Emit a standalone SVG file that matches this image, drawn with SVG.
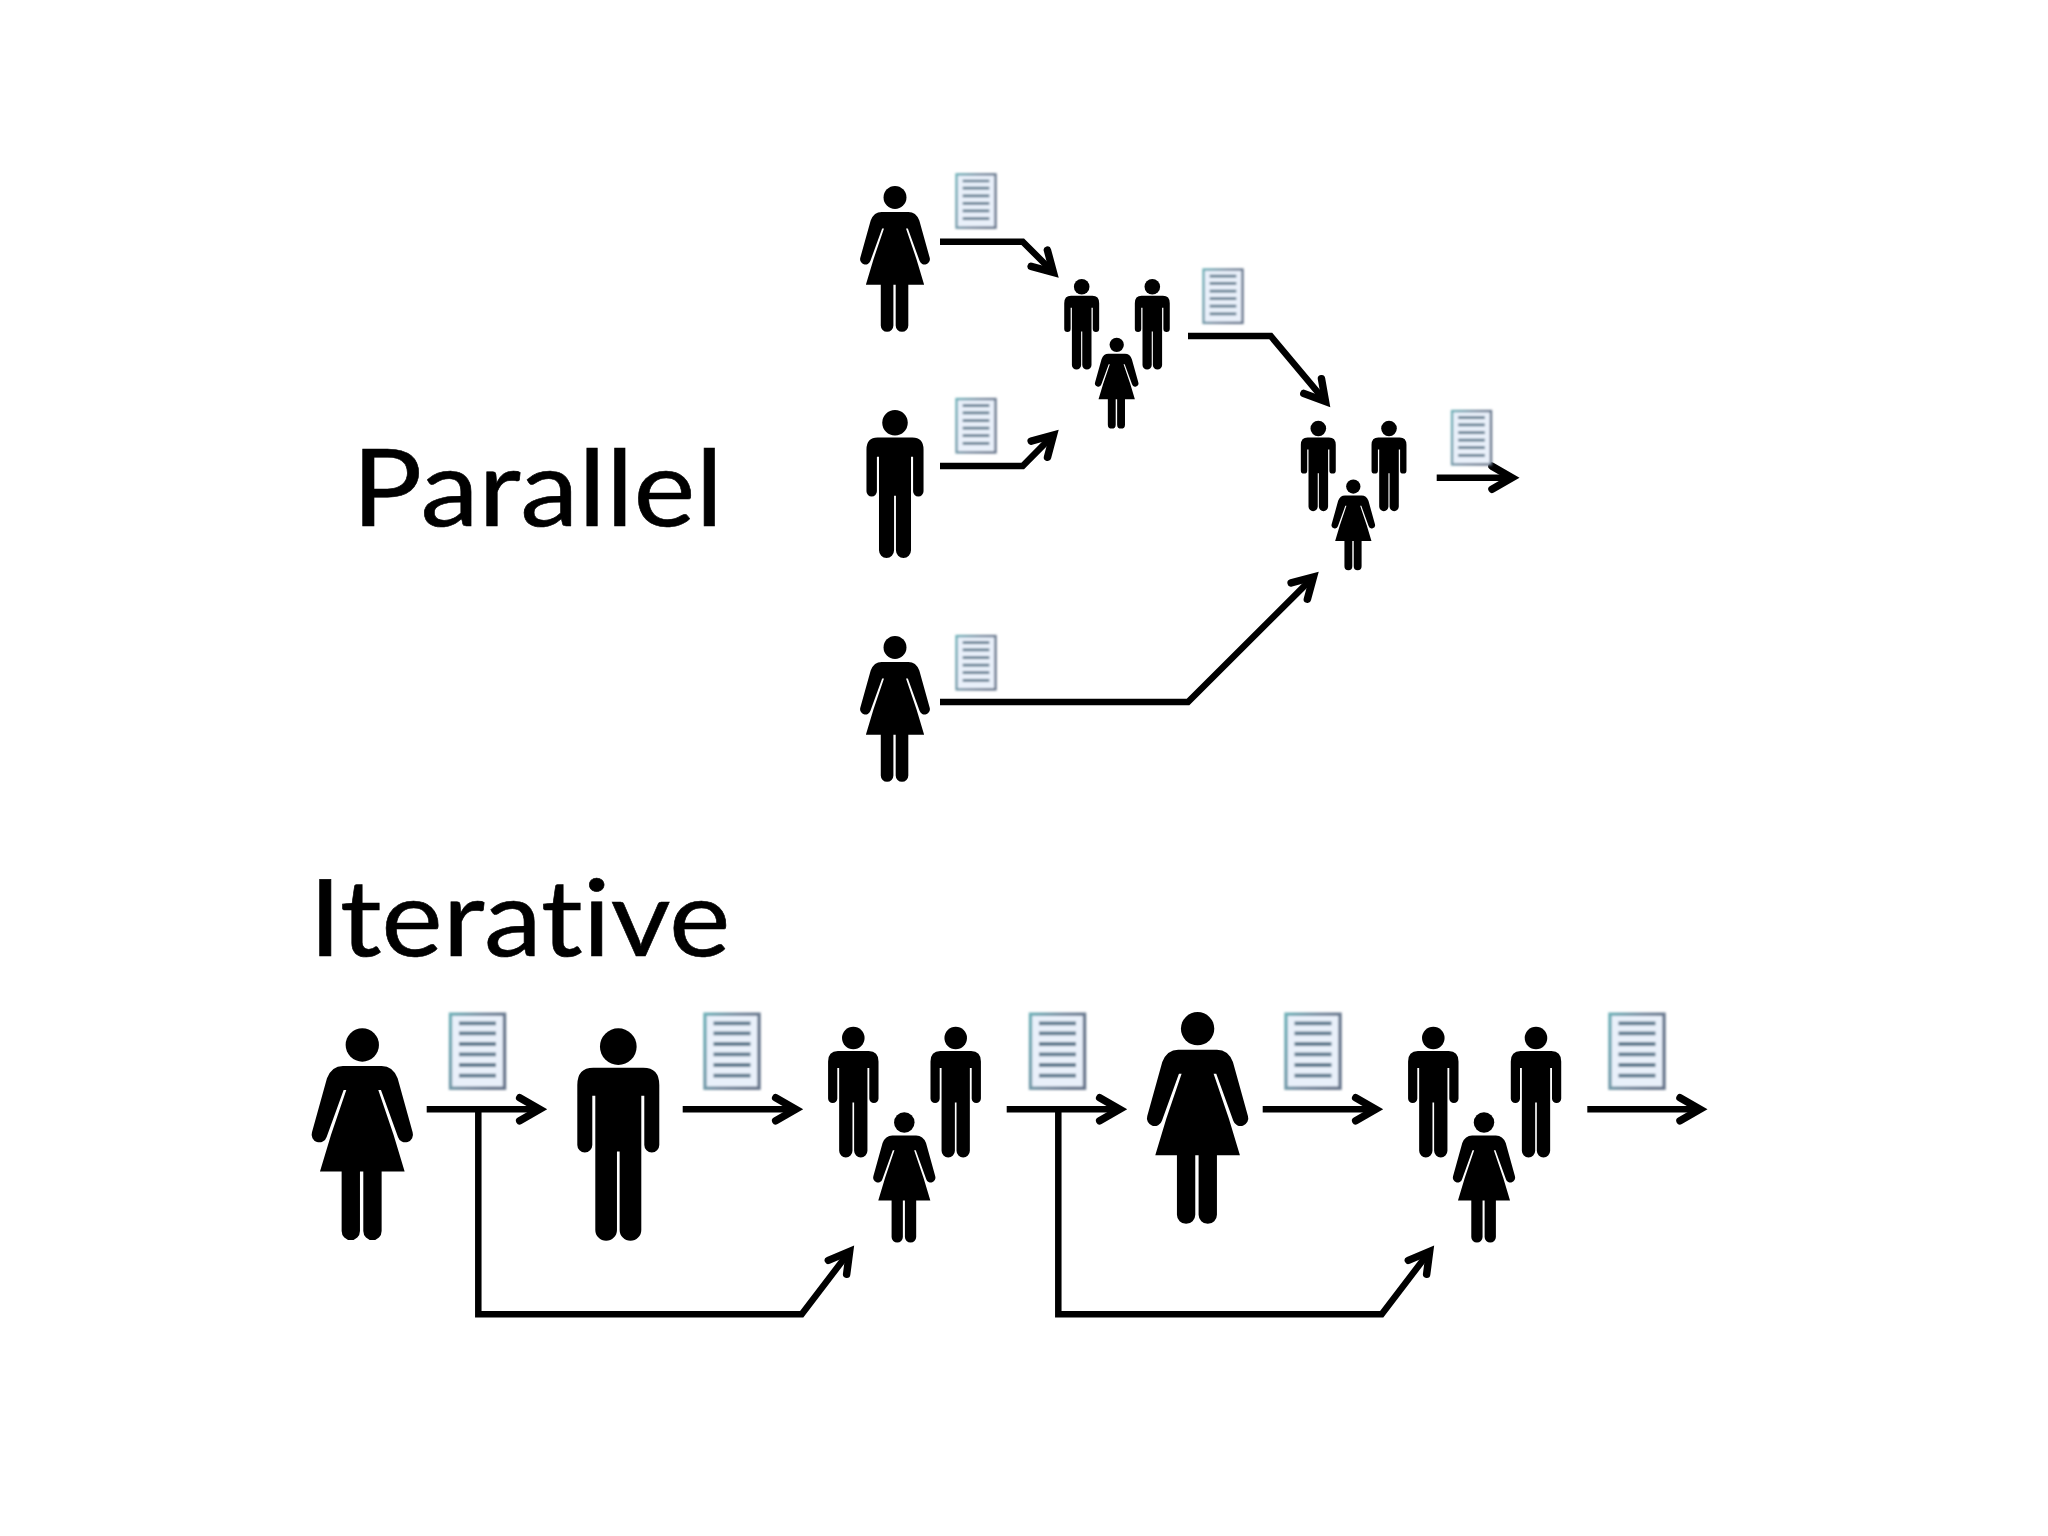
<svg xmlns="http://www.w3.org/2000/svg" width="2048" height="1536" viewBox="0 0 2048 1536">
<style>
.label{font-family:"Lato","Carlito","Liberation Sans",sans-serif;font-size:106px;fill:#000;stroke:#000;stroke-width:.6;font-variant-ligatures:none}
.wire{fill:none;stroke:#000;stroke-width:6.5;stroke-linejoin:miter}
.arrow{marker-end:url(#head)}
.fig{filter:url(#soft)}
.doc{filter:url(#softer)}
</style>
<defs>
<filter id="soft" x="-10%" y="-10%" width="120%" height="120%"><feGaussianBlur stdDeviation="0.55"/></filter>
<filter id="softer" x="-15%" y="-15%" width="130%" height="130%"><feGaussianBlur stdDeviation="0.85"/></filter>
<linearGradient id="edge" x1="0" y1="0" x2="1" y2="0.35"><stop offset="0" stop-color="#6fb0b8"/><stop offset="0.55" stop-color="#76899e"/><stop offset="1" stop-color="#66758b"/></linearGradient>
<marker id="head" markerUnits="userSpaceOnUse" markerWidth="50" markerHeight="50" refX="0" refY="0" orient="auto" overflow="visible" viewBox="-40 -25 50 50">
<path d="M-18,-11.5 L2,0 L-18,11.5" fill="none" stroke="#000" stroke-width="7.5" stroke-linecap="round" stroke-linejoin="miter" stroke-miterlimit="10"/>
</marker>
<g id="woman">
<circle cx="0" cy="50" r="50"/>
<path d="M-58,113 L58,113 Q92,113 106,150 L151,312 A23,23 0 0 1 107,326 L56,185 L48,185 L94,320 L127,430 L58,430 L58,608 A27.5,27.5 0 0 1 3,608 L3,430 L-7,430 L-7,608 A27.5,27.5 0 0 1 -62,608 L-62,430 L-127,430 L-94,320 L-48,185 L-56,185 L-107,326 A23,23 0 0 1 -151,312 L-106,150 Q-92,113 -58,113 Z"/>
</g>
<g id="man">
<circle cx="0" cy="55" r="55"/>
<path d="M-75,118 L75,118 Q123,118 123,170 L123,350 A22.5,22.5 0 0 1 78,350 L78,202 L69,202 L69,605 A32.5,32.5 0 0 1 4,605 L4,370 L-4,370 L-4,605 A32.5,32.5 0 0 1 -69,605 L-69,202 L-78,202 L-78,350 A22.5,22.5 0 0 1 -123,350 L-123,170 Q-123,118 -75,118 Z"/>
</g>
<g id="page">
<rect x="1.5" y="1.5" width="54" height="74" fill="#e9f0fa" stroke="url(#edge)" stroke-width="3.4"/>
<path d="M10,10.7H47M10,20.7H47M10,31.3H47M10,41.7H47M10,52.3H47M10,63H47" fill="none" stroke="#5f7a8e" stroke-width="3.8"/>
</g>
</defs>
<rect width="2048" height="1536" fill="#fff"/>
<text id="label-parallel" class="label" x="352" y="526" textLength="371" lengthAdjust="spacingAndGlyphs">Parallel</text>
<text id="label-iterative" class="label" x="309" y="956" textLength="421.5" lengthAdjust="spacingAndGlyphs">Iterative</text>

<g id="connectors">
<path class="wire arrow" d="M940,241.7H1022.7L1052,271"/>
<path class="wire arrow" d="M940,466H1022.7L1052,436.4"/>
<path class="wire arrow" d="M940,702H1188L1312,578.4"/>
<path class="wire arrow" d="M1188,336H1270.7L1324.2,399.9"/>
<path class="wire arrow" d="M1436.7,477.7H1510"/>
<path class="wire arrow" d="M426.7,1109.3H537.7"/>
<path class="wire arrow" d="M682.7,1109.3H793.7"/>
<path class="wire arrow" d="M1006.7,1109.3H1117.7"/>
<path class="wire arrow" d="M1262.7,1109.3H1373.7"/>
<path class="wire arrow" d="M1587.3,1109.3H1698"/>
<path class="wire arrow" d="M478.3,1110V1314.3H801.7L848.4,1253"/>
<path class="wire arrow" d="M1058.3,1110V1314.3H1381.7L1428.4,1253"/>
</g>

<g id="parallel-woman-1" class="fig"><use href="#woman" transform="translate(895,186) scale(.2294)"/></g>
<g id="parallel-man" class="fig"><use href="#man" transform="translate(895,410) scale(.232)"/></g>
<g id="parallel-woman-2" class="fig"><use href="#woman" transform="translate(895,636) scale(.2294)"/></g>
<g id="parallel-team-1" class="fig">
<use href="#man" transform="translate(1081.7,279) scale(.142)"/>
<use href="#man" transform="translate(1152.3,279) scale(.142)"/>
<use href="#woman" transform="translate(1116.7,337.7) scale(.143)"/>
</g>
<g id="parallel-team-2" class="fig">
<use href="#man" transform="translate(1318.3,420.7) scale(.142)"/>
<use href="#man" transform="translate(1389,420.7) scale(.142)"/>
<use href="#woman" transform="translate(1353.3,479.4) scale(.143)"/>
</g>
<g id="iterative-woman-1" class="fig"><use href="#woman" transform="translate(362.3,1028.3) scale(.3333)"/></g>
<g id="iterative-man" class="fig"><use href="#man" transform="translate(618.3,1028.3) scale(.3333)"/></g>
<g id="iterative-team-1" class="fig">
<use href="#man" transform="translate(853.3,1026.7) scale(.205)"/>
<use href="#man" transform="translate(955.7,1026.7) scale(.205)"/>
<use href="#woman" transform="translate(904.3,1112.3) scale(.205)"/>
</g>
<g id="iterative-woman-2" class="fig"><use href="#woman" transform="translate(1197.6,1012) scale(.3333)"/></g>
<g id="iterative-team-2" class="fig">
<use href="#man" transform="translate(1433.3,1026.7) scale(.205)"/>
<use href="#man" transform="translate(1536,1026.7) scale(.205)"/>
<use href="#woman" transform="translate(1484,1112.3) scale(.205)"/>
</g>

<g id="doc-p1" class="doc"><use href="#page" transform="translate(955.5,173.3) scale(.72)"/></g>
<g id="doc-p2" class="doc"><use href="#page" transform="translate(955.5,398) scale(.72)"/></g>
<g id="doc-p3" class="doc"><use href="#page" transform="translate(955.5,635) scale(.72)"/></g>
<g id="doc-p4" class="doc"><use href="#page" transform="translate(1202.5,268.5) scale(.72)"/></g>
<g id="doc-p5" class="doc"><use href="#page" transform="translate(1451,410) scale(.72)"/></g>
<g id="doc-i1" class="doc"><use href="#page" transform="translate(449,1012.7)"/></g>
<g id="doc-i2" class="doc"><use href="#page" transform="translate(703.5,1012.7)"/></g>
<g id="doc-i3" class="doc"><use href="#page" transform="translate(1029,1012.7)"/></g>
<g id="doc-i4" class="doc"><use href="#page" transform="translate(1284.5,1012.7)"/></g>
<g id="doc-i5" class="doc"><use href="#page" transform="translate(1608.5,1012.7)"/></g>
</svg>
